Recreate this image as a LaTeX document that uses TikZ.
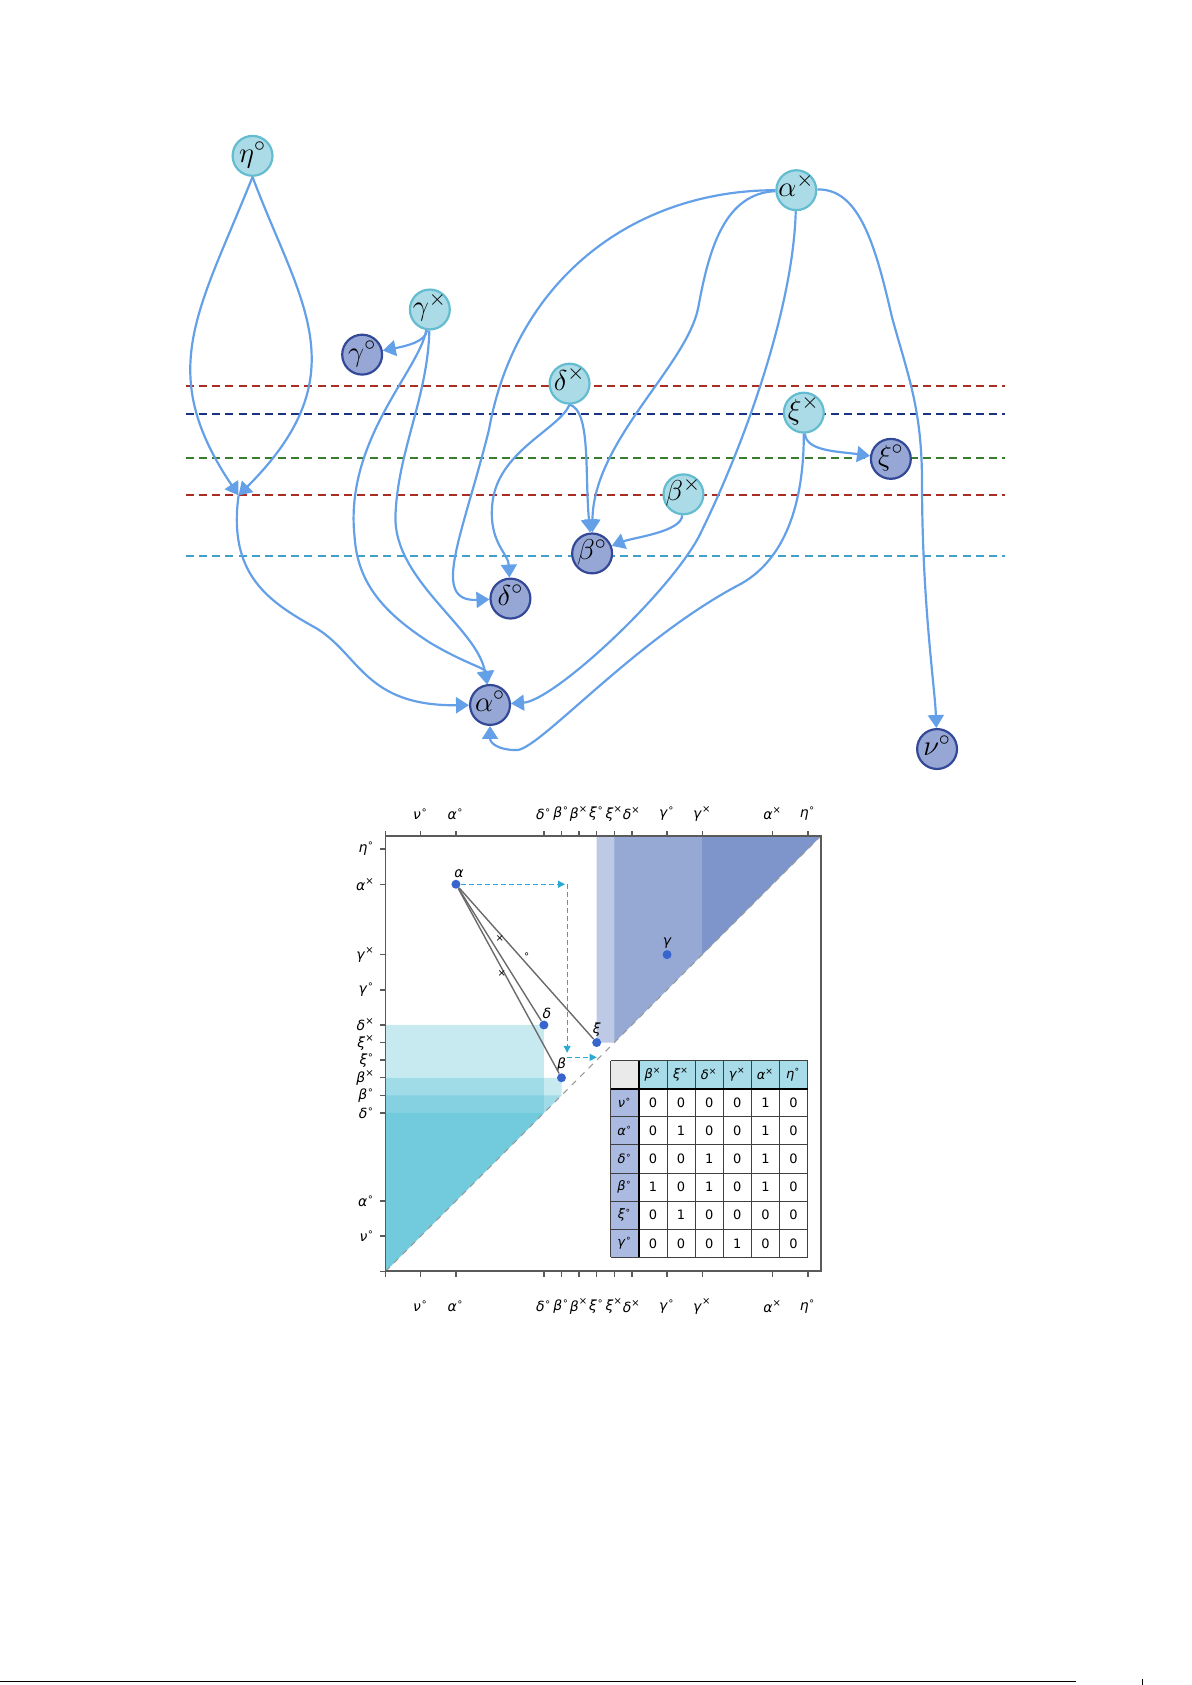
\documentclass[tikz,border=0pt]{standalone}
\usepackage{fontspec}
\usepackage{amsmath}
\usetikzlibrary{arrows.meta}
\newfontfamily\plotfont{DejaVu Sans}[ItalicFont={DejaVu Sans Oblique}]
\newcommand{\ptick}[2]{\textit{#1}\textsuperscript{#2}}
\newcommand{\gen}[2]{\makebox[0pt]{\raisebox{-0.5ex}[0pt][0pt]{$#1^{#2}$}}}

\definecolor{edgeblue}{RGB}{100,160,232}
\definecolor{palefill}{RGB}{170,219,230}
\definecolor{paleline}{RGB}{100,188,208}
\definecolor{deepfill}{RGB}{150,167,213}
\definecolor{deepline}{RGB}{52,72,152}
\definecolor{lvlred}{RGB}{170,45,35}
\definecolor{lvlnavy}{RGB}{25,50,130}
\definecolor{lvlgreen}{RGB}{55,125,45}
\definecolor{lvlteal}{RGB}{65,160,200}
\definecolor{tealfill}{RGB}{70,185,210}
\definecolor{bluefill}{RGB}{90,120,190}
\definecolor{dotblue}{RGB}{55,100,205}
\definecolor{arrcyan}{RGB}{40,170,210}
\definecolor{axisgray}{RGB}{90,90,90}
\definecolor{hdrcyan}{RGB}{168,220,232}
\definecolor{hdrblue}{RGB}{170,186,224}
\definecolor{cornergray}{RGB}{234,234,234}

\tikzset{
  pale/.style={circle, draw=paleline, fill=palefill, line width=1.1pt,
    minimum size=20pt, inner sep=0pt, font=\fontsize{15}{18}\selectfont},
  deep/.style={pale, draw=deepline, fill=deepfill},
  link/.style={edgeblue, line width=1.1pt, -{Triangle[length=6.5pt,width=8pt]}},
  cutline/.style={dash pattern=on 4pt off 2.6pt, line width=1pt},
  pdot/.style={circle, fill=dotblue, inner sep=0pt, minimum size=4.5pt},
  dotlab/.style={font=\plotfont\itshape\fontsize{7}{8}\selectfont, inner sep=0.5pt},
  ticklab/.style={font=\plotfont\fontsize{7}{8}\selectfont, inner sep=0pt},
  tag/.style={font=\plotfont\fontsize{5}{6}\selectfont, inner sep=0pt},
  cell/.style={font=\plotfont\fontsize{6.5}{8}\selectfont, inner sep=0pt},
  gline/.style={black!58, line width=0.7pt},
  flow/.style={arrcyan, dash pattern=on 2.5pt off 1.5pt, line width=0.6pt,
    -{Triangle[length=3.5pt,width=3.5pt]}},
  tabline/.style={black!75, line width=0.5pt},
}

\begin{document}
\begin{tikzpicture}[x=0.018936cm, y=-0.018936cm]
\useasboundingbox (0,0) rectangle (1109,1568);

% filtration levels
\draw[cutline, lvlred] (173,358.8) -- (935,358.8);
\draw[cutline, lvlnavy] (173,384.8) -- (935,384.8);
\draw[cutline, lvlgreen] (173,426.3) -- (935,426.3);
\draw[cutline, lvlred] (173,461) -- (935,461);
\draw[cutline, lvlteal] (173,517) -- (935,517);

% generators
\node[pale] (etao) at (235,145) {\gen{\eta}{\circ}};
\node[pale] (alphax) at (741,177) {\gen{\alpha}{\times}};
\node[pale] (gammax) at (400,288) {\gen{\gamma}{\times}};
\node[deep] (gammao) at (337,330) {\gen{\gamma}{\circ}};
\node[pale] (deltax) at (530,357) {\gen{\delta}{\times}};
\node[pale] (xix) at (748,384) {\gen{\xi}{\times}};
\node[deep] (xio) at (829,427) {\gen{\xi}{\circ}};
\node[pale] (betax) at (636,460) {\gen{\beta}{\times}};
\node[deep] (betao) at (551,515) {\gen{\beta}{\circ}};
\node[deep] (deltao) at (475,557) {\gen{\delta}{\circ}};
\node[deep] (alphao) at (456,656) {\gen{\alpha}{\circ}};
\node[deep] (nuo) at (872,697) {\gen{\nu}{\circ}};
\coordinate (J) at (222,461);

% eta splits and joins again
\draw[link] (etao.south) .. controls (185,290) and (144,345) .. (J);
\draw[link] (etao.south) .. controls (278,280) and (336,347) .. (J);
\draw[link] (J) .. controls (212,535) and (250,560) .. (295,585)
  .. controls (335,610) and (340,657) .. (alphao);

% gamma
\draw[link] (gammax) .. controls (396,318) and (378,322) .. (gammao);
\draw[link] (gammax) .. controls (390,345) and (320,410) .. (330,500)
  .. controls (333,545) and (360,572) .. (400,598)
  .. controls (432,617) and (452,622) .. (alphao);
\draw[link] (gammax) .. controls (398,370) and (370,420) .. (368,480)
  .. controls (366,540) and (445,585) .. (alphao);

% alpha cross
\draw[link] (alphax) .. controls (590,177) and (480,260) .. (455,400)
  .. controls (430,500) and (400,560) .. (deltao);
\draw[link] (alphax) .. controls (675,180) and (660,230) .. (650,285)
  .. controls (640,340) and (552,410) .. (betao);
\draw[link] (alphax) .. controls (738,290) and (690,420) .. (650,500)
  .. controls (620,555) and (515,652) .. (alphao);
\draw[link] (alphax) .. controls (800,175) and (815,230) .. (830,295)
  .. controls (845,350) and (858,380) .. (858,450)
  .. controls (858,560) and (870,640) .. (nuo);

% delta, beta, xi
\draw[link] (deltax.south) .. controls (550,382) and (544,440) .. (betao);
\draw[link] (deltax.south) .. controls (520,400) and (462,420) .. (458,470)
  .. controls (455,505) and (473,515) .. (deltao);
\draw[link] (betax) .. controls (634,495) and (590,500) .. (betao);
\draw[link] (xix) .. controls (750,420) and (780,420) .. (xio);
\draw[link] (xix) .. controls (748,470) and (730,520) .. (690,543)
  .. controls (590,595) and (500,700) .. (480,698)
  .. controls (465,698) and (456,692) .. (alphao);

% persistence diagram
\begin{scope}[shift={(358.8,1183)}, x=0.31cm, y=0.31cm]
  % death side
  \fill[bluefill, fill opacity=0.4] (12,13) -- (13,13) -- (24.75,24.75) -- (12,24.75) -- cycle;
  \fill[bluefill, fill opacity=0.4] (13,13) -- (24.75,24.75) -- (13,24.75) -- cycle;
  \fill[bluefill, fill opacity=0.4] (18,18) -- (24.75,24.75) -- (18,24.75) -- cycle;
  % birth side
  \foreach \b/\d in {9/14, 10/11, 10/10, 9/9}
    \fill[tealfill, fill opacity=0.3] (0,0) -- (\b,\b) -- (\b,\d) -- (0,\d) -- cycle;
  \draw[black!40, dashed, line width=0.5pt] (0,0) -- (24.75,24.75);
  \draw[axisgray, line width=0.8pt] (0,0) rectangle (24.75,24.75);
  % ticks
  \draw[axisgray, line width=0.7pt] (0,24.75) -- (0,25.05) (-0.3,0) -- (0,0) -- (0,-0.3);
  \foreach \v/\g/\s in {2/ν/∘, 4/α/∘, 9/δ/∘, 10/β/∘, 11/β/×, 12/ξ/∘,
      13/ξ/×, 14/δ/×, 16/γ/∘, 18/γ/×, 22/α/×, 24/η/∘}
  {
    \draw[axisgray, line width=0.7pt] (\v,24.75) -- (\v,25.05);
    \draw[axisgray, line width=0.7pt] (\v,0) -- (\v,-0.3);
    \draw[axisgray, line width=0.7pt] (0,\v) -- (-0.3,\v);
    \node[ticklab] (tt\v) at (\v,26.0) {\ptick{\g}{\s}};
    \node[ticklab] (tb\v) at (\v,-2.0) {\ptick{\g}{\s}};
    \node[ticklab, anchor=east] (tl\v) at (-0.6,\v) {\ptick{\g}{\s}};
  }
  % points
  \node[pdot, label={[dotlab, xshift=1.5pt]above:α}] (pa) at (4,22) {};
  \node[pdot, label={[dotlab]above:γ}] (pg) at (16,18) {};
  \node[pdot, label={[dotlab, xshift=1.5pt]above:δ}] (pd) at (9,14) {};
  \node[pdot, label={[dotlab]above:β}] (pb) at (10,11) {};
  \node[pdot, label={[dotlab]above:ξ}] (px) at (12,13) {};
  \draw[gline] (pa) -- (pd);
  \draw[gline] (pa) -- (pb);
  \draw[gline] (pa) -- (px);
  \node[tag] (m1) at (6.49,18.9) {×};
  \node[tag] (m2) at (8.03,17.95) {∘};
  \node[tag] (m3) at (6.6,16.95) {×};
  % reduction path
  \coordinate (f1) at (10.2,22);
  \coordinate (f2) at (10.32,22);
  \coordinate (f3) at (10.32,12.42);
  \coordinate (f4) at (10.32,12.16);
  \coordinate (f5) at (12.0,12.16);
  \draw[flow] (pa) -- (f1);
  \draw[flow] (f2) -- (f3);
  \draw[flow] (f4) -- (f5);
\end{scope}

% boundary matrix
\fill[cornergray] (568.4,987) rectangle (594.55,1013.15);
\fill[hdrcyan] (594.55,987) rectangle (751.45,1013.15);
\fill[hdrblue] (568.4,1013.15) rectangle (594.55,1170.05);
\foreach \i in {0,...,7}
{
  \draw[tabline] ({568.4+\i*26.15},987) -- ({568.4+\i*26.15},1170.05);
  \draw[tabline] (568.4,{987+\i*26.15}) -- (751.45,{987+\i*26.15});
}
\draw[tabline, black, line width=0.9pt] (594.55,987) -- (594.55,1170.05);
\draw[tabline, black, line width=0.9pt] (568.4,1013.15) -- (751.45,1013.15);
\foreach \g/\s [count=\i] in {β/×, ξ/×, δ/×, γ/×, α/×, η/∘}
  \node[cell] (h\i) at ({568.4+(\i+0.5)*26.15}, 1000.07) {\ptick{\g}{\s}};
\foreach \g/\a/\b/\c/\d/\e/\f [count=\r] in {ν/0/0/0/0/1/0, α/0/1/0/0/1/0,
    δ/0/0/1/0/1/0, β/1/0/1/0/1/0, ξ/0/1/0/0/0/0, γ/0/0/0/1/0/0}
{
  \node[cell] (r\r) at (581.5, {987+(\r+0.5)*26.15}) {\ptick{\g}{∘}};
  \foreach \v [count=\k] in {\a,\b,\c,\d,\e,\f}
    \node[cell] (c\r-\k) at ({568.4+(\k+0.5)*26.15}, {987+(\r+0.5)*26.15}) {\v};
}

% page foot
\draw[line width=0.8pt] (0,1564.7) -- (1001,1564.7);
\draw[line width=0.6pt] (1063,1562.5) -- (1063,1568);
\end{tikzpicture}
\end{document}
